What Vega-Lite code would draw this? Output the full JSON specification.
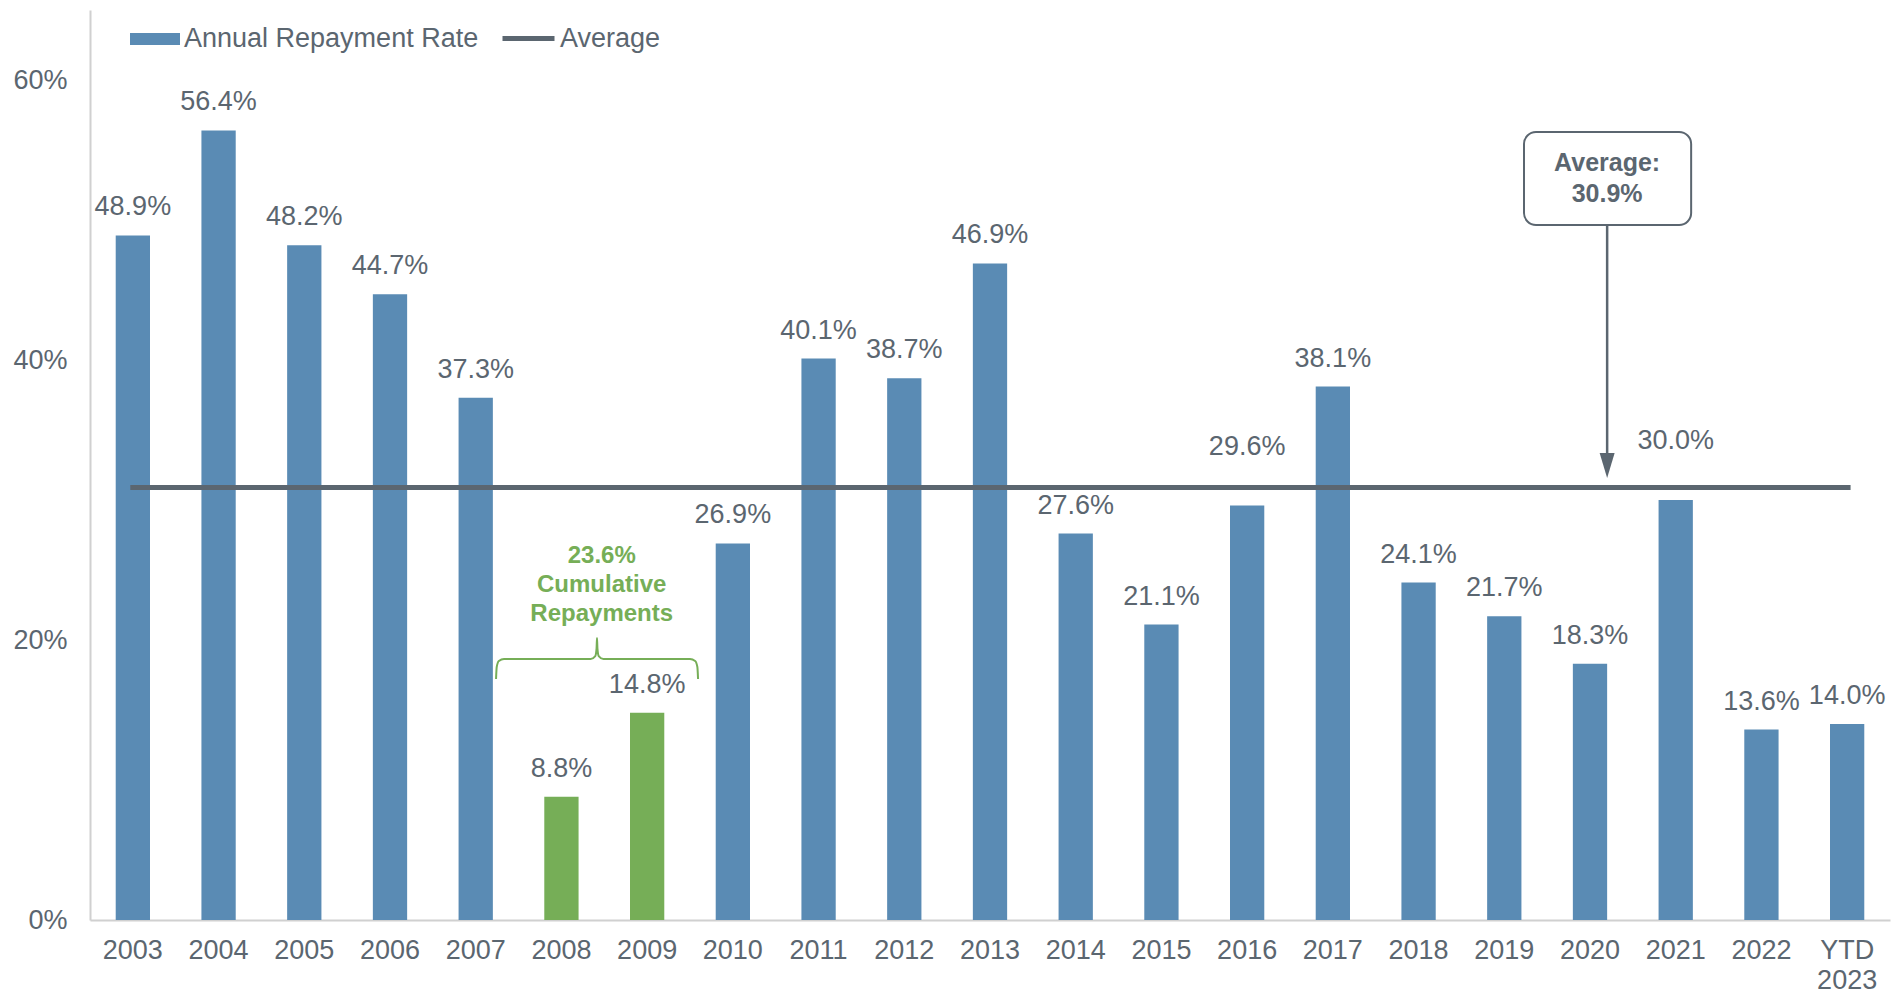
{
  "$schema": "https://vega.github.io/schema/vega-lite/v6.json",
  "width": 1800,
  "height": 910,
  "autosize": {"type": "none"},
  "padding": {"left": 90, "top": 10, "right": 9, "bottom": 73},
  "config": {
    "font": "Liberation Sans",
    "view": {"stroke": null},
    "text": {"font": "Liberation Sans"}
  },
  "datasets": {
    "bars": [
      {"year": "2003", "value": 0.489, "group": "Annual Repayment Rate"},
      {"year": "2004", "value": 0.564, "group": "Annual Repayment Rate"},
      {"year": "2005", "value": 0.482, "group": "Annual Repayment Rate"},
      {"year": "2006", "value": 0.447, "group": "Annual Repayment Rate"},
      {"year": "2007", "value": 0.373, "group": "Annual Repayment Rate"},
      {"year": "2008", "value": 0.088, "group": "Highlight"},
      {"year": "2009", "value": 0.148, "group": "Highlight"},
      {"year": "2010", "value": 0.269, "group": "Annual Repayment Rate"},
      {"year": "2011", "value": 0.401, "group": "Annual Repayment Rate"},
      {"year": "2012", "value": 0.387, "group": "Annual Repayment Rate"},
      {"year": "2013", "value": 0.469, "group": "Annual Repayment Rate"},
      {"year": "2014", "value": 0.276, "group": "Annual Repayment Rate"},
      {"year": "2015", "value": 0.211, "group": "Annual Repayment Rate"},
      {"year": "2016", "value": 0.296, "group": "Annual Repayment Rate"},
      {"year": "2017", "value": 0.381, "group": "Annual Repayment Rate"},
      {"year": "2018", "value": 0.241, "group": "Annual Repayment Rate"},
      {"year": "2019", "value": 0.217, "group": "Annual Repayment Rate"},
      {"year": "2020", "value": 0.183, "group": "Annual Repayment Rate"},
      {"year": "2021", "value": 0.300, "group": "Annual Repayment Rate"},
      {"year": "2022", "value": 0.136, "group": "Annual Repayment Rate"},
      {"year": "YTD 2023", "value": 0.140, "group": "Annual Repayment Rate"}
    ],
    "bracket": [
      {"u": 4.237, "value": 0.1721},
      {"u": 4.245, "value": 0.1807},
      {"u": 4.270, "value": 0.1850},
      {"u": 4.330, "value": 0.1864},
      {"u": 5.340, "value": 0.1864},
      {"u": 5.395, "value": 0.1885},
      {"u": 5.410, "value": 0.1940},
      {"u": 5.415, "value": 0.2014},
      {"u": 5.420, "value": 0.1940},
      {"u": 5.435, "value": 0.1885},
      {"u": 5.490, "value": 0.1864},
      {"u": 6.500, "value": 0.1864},
      {"u": 6.560, "value": 0.1850},
      {"u": 6.586, "value": 0.1807},
      {"u": 6.594, "value": 0.1721}
    ]
  },
  "resolve": {"scale": {"x": "independent"}},
  "layer": [
    {
      "data": {"name": "bars"},
      "layer": [
        {
          "mark": {"type": "bar"},
          "encoding": {
            "x": {
              "field": "year", "type": "nominal", "sort": null,
              "scale": {"paddingInner": 0.6, "paddingOuter": 0.3},
              "axis": {
                "title": null, "labelAngle": 0, "ticks": false, "labelPadding": 17,
                "labelFontSize": 27, "labelColor": "#5b6670", "labelFont": "Liberation Sans",
                "domainColor": "#d0d0d0", "domainWidth": 2,
                "labelExpr": "datum.label == 'YTD 2023' ? ['YTD', '2023'] : datum.label",
                "labelLineHeight": 30
              }
            },
            "y": {
              "field": "value", "type": "quantitative", "title": null,
              "scale": {"domain": [0, 0.65], "nice": false, "zero": true},
              "axis": {
                "title": null, "values": [0, 0.2, 0.4, 0.6], "format": ".0%", "grid": false,
                "ticks": false, "labelPadding": 23, "labelFontSize": 27, "labelColor": "#5b6670",
                "labelFont": "Liberation Sans", "domainColor": "#d0d0d0", "domainWidth": 2
              }
            },
            "color": {
              "field": "group", "type": "nominal",
              "scale": {"domain": ["Annual Repayment Rate", "Highlight"], "range": ["#5a8bb4", "#76ae57"]},
              "legend": {
                "title": null, "values": ["Annual Repayment Rate"], "orient": "none",
                "legendX": 40, "legendY": 4, "labelLimit": 0,
                "symbolType": "M-1,-0.24H1V0.24H-1Z", "symbolSize": 2500, "symbolStrokeWidth": 0,
                "labelFontSize": 27, "labelColor": "#5b6670", "labelFont": "Liberation Sans", "labelOffset": 4
              }
            }
          }
        },
        {
          "transform": [{"filter": "datum.year != '2016' && datum.year != '2021'"}],
          "mark": {"type": "text", "dy": -28, "baseline": "middle", "fontSize": 27, "color": "#5b6670"},
          "encoding": {
            "x": {"field": "year", "type": "nominal", "sort": null},
            "y": {"field": "value", "type": "quantitative", "title": null},
            "text": {"field": "value", "format": ".1%"}
          }
        },
        {
          "transform": [{"filter": "datum.year == '2016' || datum.year == '2021'"}],
          "mark": {"type": "text", "dy": -59, "baseline": "middle", "fontSize": 27, "color": "#5b6670"},
          "encoding": {
            "x": {"field": "year", "type": "nominal", "sort": null},
            "y": {"field": "value", "type": "quantitative", "title": null},
            "text": {"field": "value", "format": ".1%"}
          }
        }
      ]
    },
    {
      "layer": [
        {
          "data": {"values": [{"series": "Average", "value": 0.309, "u0": -0.03, "u1": 20.04}]},
          "mark": {"type": "rule", "strokeWidth": 5},
          "encoding": {
            "x": {"field": "u0", "type": "quantitative", "scale": {"domain": [-0.5, 20.5], "nice": false, "zero": false}, "axis": null},
            "x2": {"field": "u1"},
            "y": {"field": "value", "type": "quantitative", "title": null},
            "stroke": {
              "field": "series", "type": "nominal",
              "scale": {"domain": ["Average"], "range": ["#5b6670"]},
              "legend": {
                "title": null, "orient": "none", "legendX": 410, "legendY": 0, "labelLimit": 0,
                "symbolType": "stroke", "symbolSize": 2704, "symbolStrokeWidth": 5,
                "labelFontSize": 27, "labelColor": "#5b6670", "labelFont": "Liberation Sans", "labelOffset": 3
              }
            }
          }
        },
        {
          "data": {"values": [{"u0": 16.23, "u1": 18.18, "value": 0.5629, "value2": 0.4964}]},
          "mark": {"type": "rect", "cornerRadius": 12, "fill": "white", "stroke": "#5b6670", "strokeWidth": 2},
          "encoding": {
            "x": {"field": "u0", "type": "quantitative", "axis": null},
            "x2": {"field": "u1"},
            "y": {"field": "value", "type": "quantitative", "title": null},
            "y2": {"field": "value2"}
          }
        },
        {
          "data": {"values": [{"u": 17.2, "value": 0.4964, "value2": 0.331}]},
          "mark": {"type": "rule", "color": "#5b6670", "strokeWidth": 2.5},
          "encoding": {
            "x": {"field": "u", "type": "quantitative", "axis": null},
            "y": {"field": "value", "type": "quantitative", "title": null},
            "y2": {"field": "value2"}
          }
        },
        {
          "data": {"values": [{"u": 17.2, "value": 0.3246}]},
          "mark": {"type": "point", "shape": "M-0.6,-1L0.6,-1L0,1Z", "size": 625, "filled": true, "color": "#5b6670", "opacity": 1},
          "encoding": {
            "x": {"field": "u", "type": "quantitative", "axis": null},
            "y": {"field": "value", "type": "quantitative", "title": null}
          }
        },
        {
          "data": {"values": [{"u": 17.2, "value": 0.5407, "label": "Average:\n30.9%"}]},
          "mark": {"type": "text", "lineBreak": "\n", "baseline": "middle", "fontSize": 25, "fontWeight": "bold", "lineHeight": 31, "color": "#5b6670"},
          "encoding": {
            "x": {"field": "u", "type": "quantitative", "axis": null},
            "y": {"field": "value", "type": "quantitative", "title": null},
            "text": {"field": "label"}
          }
        },
        {
          "data": {"values": [{"u": 5.47, "value": 0.26, "label": "23.6%\nCumulative\nRepayments"}]},
          "mark": {"type": "text", "lineBreak": "\n", "baseline": "middle", "fontSize": 24, "fontWeight": "bold", "lineHeight": 29, "color": "#76ae57"},
          "encoding": {
            "x": {"field": "u", "type": "quantitative", "axis": null},
            "y": {"field": "value", "type": "quantitative", "title": null},
            "text": {"field": "label"}
          }
        },
        {
          "data": {"name": "bracket"},
          "mark": {"type": "line", "color": "#76ae57", "strokeWidth": 2, "interpolate": "monotone"},
          "encoding": {
            "x": {"field": "u", "type": "quantitative", "axis": null},
            "y": {"field": "value", "type": "quantitative", "title": null}
          }
        }
      ]
    }
  ]
}
